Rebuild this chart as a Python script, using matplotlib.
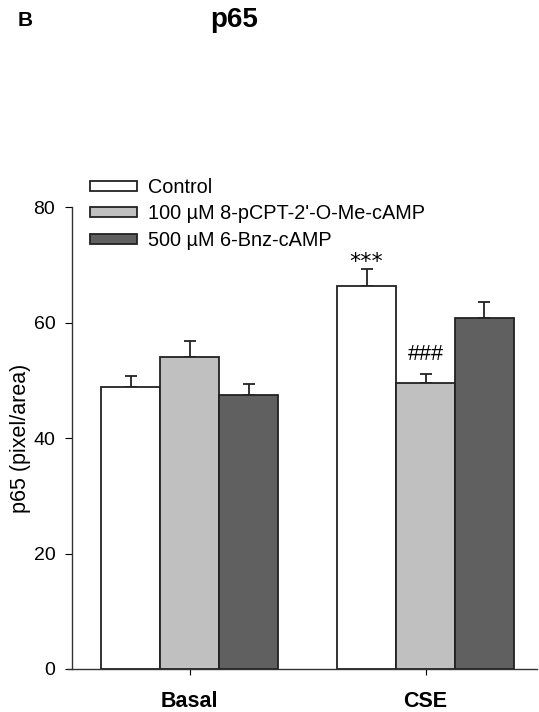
import matplotlib
matplotlib.use("Agg")
import matplotlib.pyplot as plt
import numpy as np

plt.rcParams['font.family'] = ['Liberation Sans', 'DejaVu Sans']

groups = ["Basal", "CSE"]
series = ["Control", "100 \u00b5M 8-pCPT-2'-O-Me-cAMP", "500 \u00b5M 6-Bnz-cAMP"]
colors = ["#ffffff", "#c0c0c0", "#606060"]
means = {
    "Control": [48.8, 66.3],
    "100 \u00b5M 8-pCPT-2'-O-Me-cAMP": [54.0, 49.5],
    "500 \u00b5M 6-Bnz-cAMP": [47.4, 60.8],
}
sems = {
    "Control": [2.0, 3.0],
    "100 \u00b5M 8-pCPT-2'-O-Me-cAMP": [2.8, 1.6],
    "500 \u00b5M 6-Bnz-cAMP": [2.0, 2.8],
}
# significance marks: (group index, series index, text)
marks = [(1, 0, "***"), (1, 1, "###")]

fig = plt.figure(figsize=(5.39, 7.12), dpi=100)
ax = fig.add_axes([0.1262, 0.0604, 0.9963 - 0.1262, 0.709 - 0.0604])

x = np.arange(len(groups))
w = 0.25
for i, s in enumerate(series):
    pos = x + (i - 1) * w
    ax.bar(pos, means[s], w, color=colors[i], edgecolor="#222222",
           linewidth=1.3, label=s, zorder=2)
    ax.errorbar(pos, means[s], yerr=[np.zeros(len(groups)), sems[s]],
                fmt="none", ecolor="#222222", elinewidth=1.3, capsize=4.3,
                capthick=1.3, zorder=1)

for g, i, txt in marks:
    s = series[i]
    top = means[s][g] + sems[s][g]
    if txt == "***":
        ax.text(x[g] + (i - 1) * w, top - 0.5, txt, ha="center", va="bottom",
                fontsize=16, family="DejaVu Sans")
    else:
        ax.text(x[g] + (i - 1) * w, top + 1.5, txt, ha="center", va="bottom",
                fontsize=15.5)

ax.set_xlim(-0.517, 1.473)
ax.set_ylim(0, 80)
ax.spines['left'].set_position(('data', -0.5))
ax.spines['right'].set_visible(False)
ax.spines['top'].set_visible(False)
for sp in ax.spines.values():
    sp.set_linewidth(1.0)
    sp.set_color("#333333")
ax.set_yticks([0, 20, 40, 60, 80])
ax.set_xticks(x)
ax.set_xticklabels(groups, fontsize=15.5, fontweight="bold")
ax.tick_params(axis='y', labelsize=14, length=5, direction='out', pad=7)
ax.tick_params(axis='x', length=4, direction='out', pad=12)
ax.set_ylabel("p65 (pixel/area)", fontsize=15.5, labelpad=2)

fig.legend(loc="upper left", bbox_to_anchor=(90 / 539, 1 - 178 / 712),
           frameon=False, fontsize=14.3, handlelength=2.37, handleheight=0.4,
           handletextpad=0.55, labelspacing=0.37, borderpad=0, borderaxespad=0)

fig.text(18 / 539, 1 - 20 / 712, "B", fontsize=15, fontweight="bold",
         ha="left", va="center")
fig.text(234 / 539, 1 - 20 / 712, "p65", fontsize=20, fontweight="bold",
         ha="center", va="center")

fig.savefig("out.png", dpi=100)
